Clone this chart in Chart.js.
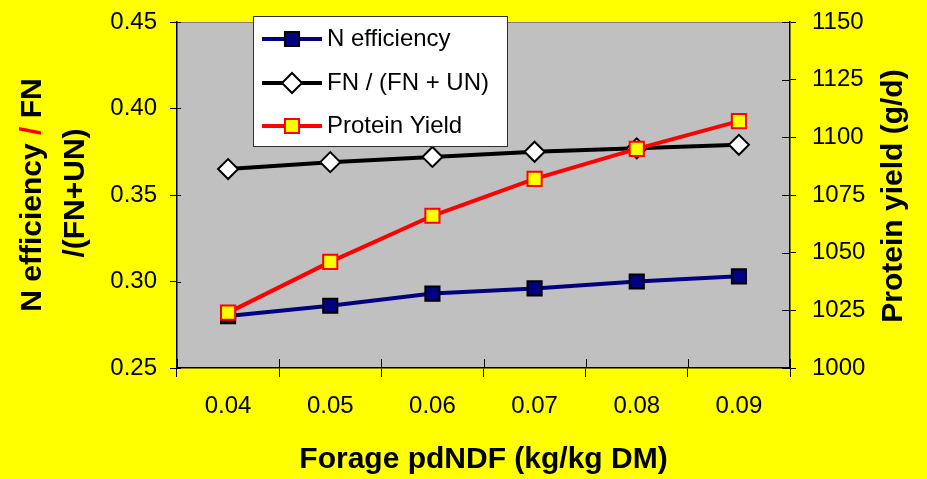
<!DOCTYPE html>
<html>
<head>
<meta charset="utf-8">
<title>Forage pdNDF vs N efficiency and protein yield</title>
<script src="https://cdn.jsdelivr.net/npm/chart.js@4.4.0/dist/chart.umd.min.js"></script>
<style>
  html, body { margin: 0; padding: 0; background: #ffff00; }
  #wrap { width: 927px; height: 479px; position: relative; }
  canvas { display: block; }
</style>
</head>
<body>
<div id="wrap"><canvas id="chart" width="927" height="479"></canvas></div>
<script>
// Forage pdNDF levels (kg/kg DM)
const forageLabels = ['0.04', '0.05', '0.06', '0.07', '0.08', '0.09'];
// Left axis series
const nEfficiency = [0.280, 0.286, 0.293, 0.296, 0.300, 0.303];
const fnRatio = [0.365, 0.369, 0.372, 0.375, 0.377, 0.379];
// Right axis series (g/d)
const proteinYield = [1024, 1046, 1066, 1082, 1095, 1107];
// Axis tick values
const leftTicks = [0.25, 0.30, 0.35, 0.40, 0.45];
const rightTicks = [1000, 1025, 1050, 1075, 1100, 1125, 1150];

const FONT = "'Liberation Sans', Arial, Helvetica, sans-serif";

// Grey plot area with a thin top frame
const plotBackground = {
  id: 'plotBackground',
  beforeDraw(chart) {
    const { ctx, chartArea: a } = chart;
    ctx.save();
    ctx.fillStyle = '#c0c0c0';
    ctx.fillRect(a.left, a.top, a.right - a.left, a.bottom - a.top);
    ctx.strokeStyle = '#808080';
    ctx.lineWidth = 1;
    ctx.beginPath();
    ctx.moveTo(a.left, a.top + 0.5);
    ctx.lineTo(a.right, a.top + 0.5);
    ctx.stroke();
    ctx.restore();
  }
};

// Short tick marks on the inner side of each axis
const innerTicks = {
  id: 'innerTicks',
  beforeDatasetsDraw(chart, args, opts) {
    const { ctx, chartArea: a, scales } = chart;
    const seg = (x1, y1, x2, y2) => { ctx.beginPath(); ctx.moveTo(x1, y1); ctx.lineTo(x2, y2); ctx.stroke(); };
    ctx.save();
    ctx.strokeStyle = '#000';
    ctx.lineWidth = 1;
    const n = scales.x.ticks.length;
    for (let i = 0; i <= n; i++) {
      const px = Math.round(a.left + (a.right - a.left) * i / n) + 0.5;
      seg(px, a.bottom, px, a.bottom - opts.x);
    }
    scales.y.ticks.forEach(t => {
      const py = Math.round(scales.y.getPixelForValue(t.value)) + 0.5;
      seg(a.left, py, a.left + opts.y, py);
    });
    scales.y1.ticks.forEach(t => {
      const py = Math.round(scales.y1.getPixelForValue(t.value)) + 0.5;
      seg(a.right, py, a.right - opts.y1, py);
    });
    ctx.restore();
  }
};

// Rotated y-axis titles (left one has a red separator)
const axisTitles = {
  id: 'axisTitles',
  afterDraw(chart, args, opts) {
    const { ctx, chartArea: a } = chart;
    const cy = (a.top + a.bottom) / 2;
    ctx.save();
    ctx.font = 'bold 30px ' + FONT;
    ctx.textBaseline = 'middle';

    const drawRuns = (runs, x, y) => {
      const total = runs.reduce((s, r) => s + ctx.measureText(r.t).width, 0);
      ctx.save();
      ctx.translate(x, y);
      ctx.rotate(-Math.PI / 2);
      let cx = -total / 2;
      ctx.textAlign = 'left';
      runs.forEach(r => {
        ctx.fillStyle = r.c;
        ctx.fillText(r.t, cx, 0);
        cx += ctx.measureText(r.t).width;
      });
      ctx.restore();
    };

    drawRuns([
      { t: 'N efficiency ', c: '#000' },
      { t: '/', c: '#ff0000' },
      { t: ' FN', c: '#000' }
    ], opts.leftX1, cy);
    drawRuns([{ t: '/(FN+UN)', c: '#000' }], opts.leftX2, cy - 2);
    drawRuns([{ t: 'Protein yield (g/d)', c: '#000' }], opts.rightX, cy + 1);
    ctx.restore();
  }
};

// Boxed legend placed inside the plot area
const insetLegend = {
  id: 'insetLegend',
  afterDraw(chart, args, opts) {
    const { ctx } = chart;
    ctx.save();
    ctx.fillStyle = '#ffffff';
    ctx.fillRect(opts.x, opts.y, opts.w, opts.h);
    ctx.strokeStyle = '#303030';
    ctx.lineWidth = 1;
    ctx.strokeRect(opts.x + 0.5, opts.y + 0.5, opts.w, opts.h);
    ctx.font = '24px ' + FONT;
    ctx.textBaseline = 'middle';
    chart.data.datasets.forEach((ds, i) => {
      const ry = opts.rows[i];
      ctx.strokeStyle = ds.borderColor;
      ctx.lineWidth = ds.borderWidth;
      ctx.beginPath();
      ctx.moveTo(opts.lineX1, ry);
      ctx.lineTo(opts.lineX2, ry);
      ctx.stroke();
      ctx.fillStyle = ds.pointBackgroundColor;
      ctx.strokeStyle = ds.pointBorderColor;
      ctx.lineWidth = ds.pointBorderWidth;
      Chart.helpers.drawPoint(ctx, {
        pointStyle: ds.pointStyle,
        radius: ds.pointRadius,
        rotation: 0,
        borderWidth: ds.pointBorderWidth
      }, (opts.lineX1 + opts.lineX2) / 2, ry);
      ctx.fillStyle = '#000';
      ctx.fillText(ds.label, opts.textX, ry);
    });
    ctx.restore();
  }
};

// Fixed axis widths; tick-label overhang is covered by the layout padding
const fitVertical = width => scale => {
  scale.width = width;
  scale.paddingTop = 0;
  scale.paddingBottom = 0;
};

const ctx = document.getElementById('chart').getContext('2d');
new Chart(ctx, {
  type: 'line',
  data: {
    labels: forageLabels,
    datasets: [
      {
        label: 'N efficiency',
        data: nEfficiency,
        yAxisID: 'y',
        borderColor: '#000080',
        borderWidth: 4,
        pointStyle: 'rect',
        pointRadius: 10,
        pointBackgroundColor: '#000080',
        pointBorderColor: '#000000',
        pointBorderWidth: 2,
        order: 3
      },
      {
        label: 'FN / (FN + UN)',
        data: fnRatio,
        yAxisID: 'y',
        borderColor: '#000000',
        borderWidth: 4,
        pointStyle: 'rectRot',
        pointRadius: 10,
        pointBackgroundColor: '#ffffff',
        pointBorderColor: '#000000',
        pointBorderWidth: 2,
        order: 2
      },
      {
        label: 'Protein Yield',
        data: proteinYield,
        yAxisID: 'y1',
        borderColor: '#ff0000',
        borderWidth: 4,
        pointStyle: 'rect',
        pointRadius: 10,
        pointBackgroundColor: '#ffff00',
        pointBorderColor: '#ff0000',
        pointBorderWidth: 2,
        order: 1
      }
    ]
  },
  options: {
    responsive: false,
    animation: false,
    devicePixelRatio: 1,
    layout: { padding: { top: 22, left: 0, right: 0, bottom: 0 } },
    elements: { line: { tension: 0 } },
    plugins: {
      legend: { display: false },
      tooltip: { enabled: false },
      innerTicks: { x: 9, y: 4, y1: 8 },
      axisTitles: { leftX1: 33, leftX2: 76, rightX: 894 },
      insetLegend: {
        x: 253, y: 16, w: 254, h: 130,
        rows: [39, 83, 126],
        lineX1: 262, lineX2: 322, textX: 327
      }
    },
    scales: {
      x: {
        type: 'category',
        offset: true,
        afterFit(scale) {
          scale.height = 111;
          scale.paddingLeft = 0;
          scale.paddingRight = 0;
        },
        grid: {
          display: true,
          offset: true,
          drawOnChartArea: false,
          drawTicks: true,
          tickLength: 9,
          color: '#000000'
        },
        border: { display: true, color: '#000000', width: 1.5 },
        ticks: {
          color: '#000000',
          padding: 15,
          font: { family: FONT, size: 24 },
          maxRotation: 0
        },
        title: {
          display: true,
          text: 'Forage pdNDF (kg/kg DM)',
          color: '#000000',
          font: { family: FONT, size: 30, weight: 'bold', lineHeight: 1.2 },
          padding: { top: 0, bottom: 1 }
        }
      },
      y: {
        position: 'left',
        min: 0.25,
        max: 0.45,
        afterFit: fitVertical(177),
        afterBuildTicks(scale) { scale.ticks = leftTicks.map(v => ({ value: v })); },
        grid: {
          display: true,
          drawOnChartArea: false,
          drawTicks: true,
          tickLength: 7,
          color: '#000000'
        },
        border: { display: true, color: '#000000', width: 1.5 },
        ticks: {
          color: '#000000',
          padding: 13,
          font: { family: FONT, size: 24 },
          callback: v => Number(v).toFixed(2)
        }
      },
      y1: {
        position: 'right',
        min: 1000,
        max: 1150,
        afterFit: fitVertical(137),
        afterBuildTicks(scale) { scale.ticks = rightTicks.map(v => ({ value: v })); },
        grid: {
          display: true,
          drawOnChartArea: false,
          drawTicks: true,
          tickLength: 6,
          color: '#000000'
        },
        border: { display: true, color: '#000000', width: 1.5 },
        ticks: {
          color: '#000000',
          padding: 16,
          font: { family: FONT, size: 24 },
          callback: v => String(v)
        }
      }
    }
  },
  plugins: [plotBackground, innerTicks, axisTitles, insetLegend]
});
</script>
</body>
</html>
